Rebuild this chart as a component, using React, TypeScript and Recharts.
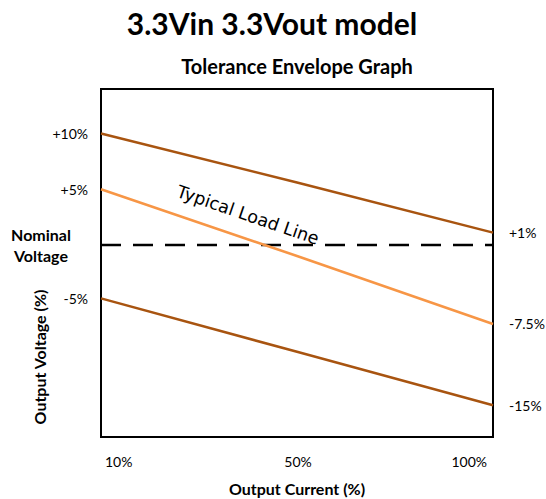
import React from 'react';
import { LineChart, Line, XAxis, YAxis, ReferenceArea, LabelList } from 'recharts';

// load points on the x axis (category axis, edge to edge)
const loads = ['10%', '50%', '100%'];

// output voltage deviation, in %
const upperLimit = [10, 5.6, 1.1];
const typical = [5, -1.0, -7.1];
const nominal = [0, 0, 0];
const lowerLimit = [-4.8, -9.6, -14.4];

// annotation text at the line ends
const upperTags = ['+10%', '', '+1%'];
const typicalTags = ['+5%', '', '-7.5%'];
const lowerTags = ['-5%', '', '-15%'];

const yDomain: [number, number] = [-17.25, 14];

const data = loads.map((load, i) => ({
  load,
  upper: upperLimit[i],
  typical: typical[i],
  nominal: nominal[i],
  lower: lowerLimit[i],
  upperTag: upperTags[i],
  typicalTag: typicalTags[i],
  lowerTag: lowerTags[i],
}));

const FONT = 'Lato, "Liberation Sans", sans-serif';
const BROWN = '#A85410';
const ORANGE = '#F79646';

const EndTag = (props: any) => {
  const { x, y, value, index } = props;
  if (!value) return null;
  const left = index === 0;
  return (
    <text
      x={left ? x - 13 : x + 16}
      y={y}
      textAnchor={left ? 'end' : 'start'}
      dominantBaseline="central"
      fontFamily={FONT}
      fontSize={14}
      fill="#000"
    >
      {value}
    </text>
  );
};

const LoadTick = (props: any) => {
  const { x, y, payload, index } = props;
  const last = index === loads.length - 1;
  const anchor = index === 0 ? 'start' : last ? 'end' : 'middle';
  const dx = index === 0 ? 4 : last ? -6 : 1;
  return (
    <text
      x={x + dx}
      y={y + 24}
      textAnchor={anchor}
      dominantBaseline="central"
      fontFamily={FONT}
      fontSize={14}
      fill="#000"
    >
      {payload.value}
    </text>
  );
};

export default function App() {
  return (
    <div style={{ position: 'absolute', left: 0, top: 0, width: 546, height: 499, background: '#fff' }}>
      <LineChart
        width={546}
        height={499}
        data={data}
        margin={{ top: 89, right: 53, left: 101, bottom: 32 }}
      >
        <XAxis
          dataKey="load"
          height={30}
          axisLine={false}
          tickLine={false}
          tickSize={0}
          tickMargin={0}
          tick={<LoadTick />}
          interval={0}
        />
        <YAxis hide domain={yDomain} type="number" />
        <ReferenceArea y1={yDomain[0]} y2={yDomain[1]} fill="none" stroke="#000" strokeWidth={2} />
        <Line
          type="linear"
          dataKey="nominal"
          stroke="#000"
          strokeWidth={2.5}
          strokeDasharray="20 12"
          dot={false}
          isAnimationActive={false}
        />
        <Line type="linear" dataKey="upper" stroke={BROWN} strokeWidth={2.5} dot={false} isAnimationActive={false}>
          <LabelList dataKey="upperTag" content={<EndTag />} />
        </Line>
        <Line type="linear" dataKey="typical" stroke={ORANGE} strokeWidth={2.5} dot={false} isAnimationActive={false}>
          <LabelList dataKey="typicalTag" content={<EndTag />} />
        </Line>
        <Line type="linear" dataKey="lower" stroke={BROWN} strokeWidth={2.5} dot={false} isAnimationActive={false}>
          <LabelList dataKey="lowerTag" content={<EndTag />} />
        </Line>
      </LineChart>
      <svg
        width={546}
        height={499}
        style={{ position: 'absolute', left: 0, top: 0, pointerEvents: 'none' }}
      >
        <text x={272} y={23} textAnchor="middle" dominantBaseline="central" fontFamily={FONT} fontWeight="bold" fontSize={30}>
          3.3Vin 3.3Vout model
        </text>
        <text x={297} y={66} textAnchor="middle" dominantBaseline="central" fontFamily={FONT} fontWeight="bold" fontSize={20}>
          Tolerance Envelope Graph
        </text>
        <text textAnchor="middle" fontFamily={FONT} fontWeight="bold" fontSize={16}>
          <tspan x={41} y={241}>Nominal</tspan>
          <tspan x={41} y={262}>Voltage</tspan>
        </text>
        <text
          x={39}
          y={357}
          textAnchor="middle"
          dominantBaseline="central"
          fontFamily={FONT}
          fontWeight="bold"
          fontSize={16}
          transform="rotate(-90 39 357)"
        >
          Output Voltage (%)
        </text>
        <text x={297} y={488} textAnchor="middle" dominantBaseline="central" fontFamily={FONT} fontWeight="bold" fontSize={16}>
          Output Current (%)
        </text>
        <text
          x={248}
          y={215}
          textAnchor="middle"
          dominantBaseline="central"
          fontFamily='"DejaVu Sans", sans-serif'
          fontSize={17.5}
          transform="rotate(19 248 215)"
        >
          Typical Load Line
        </text>
      </svg>
    </div>
  );
}
